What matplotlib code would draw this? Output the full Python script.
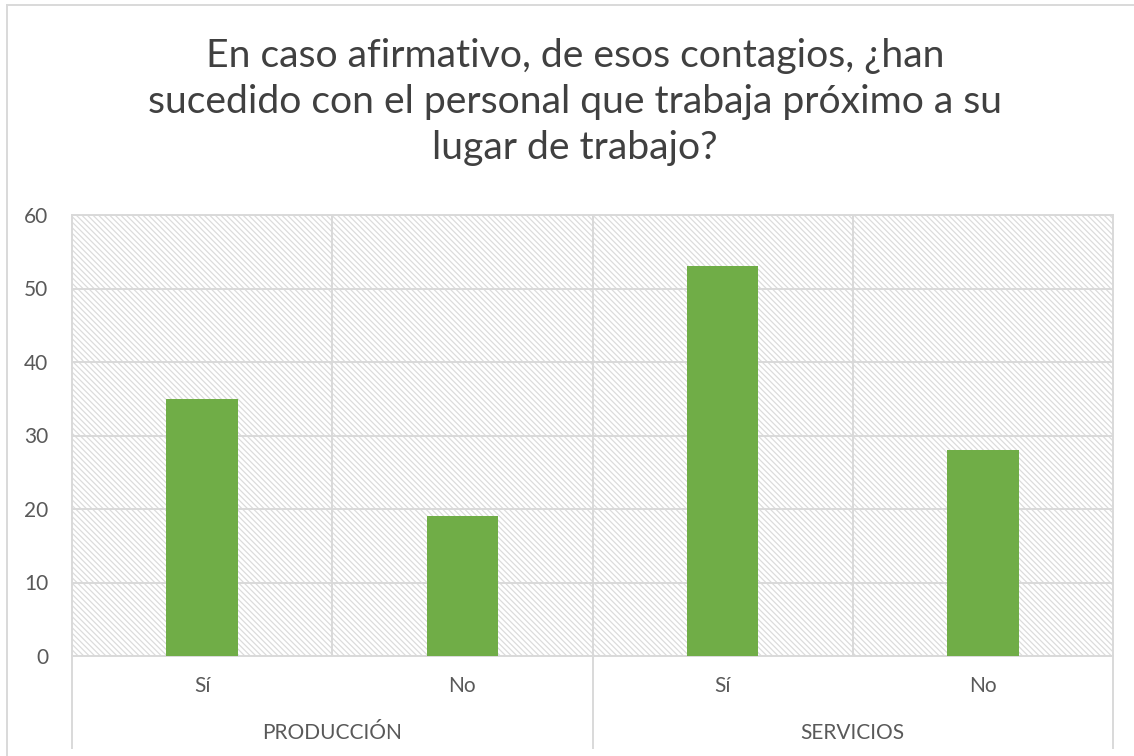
import matplotlib
matplotlib.use("Agg")
import matplotlib.pyplot as plt
from matplotlib.patches import Rectangle
from matplotlib.lines import Line2D

title = "En caso afirmativo, de esos contagios, ¿han\nsucedido con el personal que trabaja próximo a su\nlugar de trabajo?"
groups = ["PRODUCCIÓN", "SERVICIOS"]
categories = ["Sí", "No", "Sí", "No"]
values = [35, 19, 53, 28]
yticks = [0, 10, 20, 30, 40, 50, 60]

plt.rcParams['font.family'] = ['Lato', 'DejaVu Sans']
plt.rcParams['hatch.linewidth'] = 0.9
plt.rcParams['hatch.color'] = '#dcdcdc'

W, H = 1134, 756
fig = plt.figure(figsize=(W/100, H/100), dpi=100)
ax = fig.add_axes([72/W, 1-656/H, (1113-72)/W, (656-215)/H])

grid_c = '#d9d9d9'
txt_c = '#595959'

# hatched background
bg = Rectangle((0, 0), 1, 1, transform=ax.transAxes, facecolor='white',
               edgecolor='#dcdcdc', hatch='\\\\\\\\\\\\', linewidth=0, zorder=0)
ax.add_patch(bg)
ax.patch.set_visible(False)

x = list(range(len(values)))
ax.bar(x, values, width=0.275, color='#70ad47', zorder=3)

ax.set_xlim(-0.5, len(values)-0.5)
ax.set_ylim(0, 60)
ax.set_yticks(yticks)
ax.set_yticklabels([str(t) for t in yticks], fontsize=15, color=txt_c)
ax.tick_params(axis='y', length=0, pad=17)
ax.tick_params(axis='x', length=0)
ax.set_xticks([])

for t in yticks[1:]:
    ax.axhline(t, color=grid_c, lw=1.4, zorder=1)
for b in [0.5, 1.5, 2.5]:
    ax.axvline(b, color=grid_c, lw=1.4, zorder=1)

for s in ['top', 'right', 'left', 'bottom']:
    ax.spines[s].set_color(grid_c)
    ax.spines[s].set_linewidth(1.4)

# category labels
trans = ax.get_xaxis_transform()
ax_h = 656 - 215
for i, c in enumerate(categories):
    ax.text(i, -(686-656)/ax_h, c, transform=trans, ha='center', va='center',
            fontsize=15, color=txt_c)
for g, name in enumerate(groups):
    ax.text(g*2 + 0.5, -(733-656)/ax_h, name, transform=trans, ha='center',
            va='center', fontsize=15, color=txt_c)
for b in [-0.5, 1.5, 3.5]:
    ax.add_line(Line2D([b, b], [0, -(748-656)/ax_h], transform=trans,
                       color=grid_c, lw=1.4, clip_on=False))

# chart border
fig.add_artist(Line2D([7/W, 1], [1-5/H, 1-5/H], transform=fig.transFigure,
                      color=grid_c, lw=1.4))
fig.add_artist(Line2D([7/W, 7/W], [0, 1-5/H], transform=fig.transFigure,
                      color=grid_c, lw=1.4))

fig.text(575/W, 1-102/H, title, ha='center', va='center', fontsize=28.2,
         color='#404040', linespacing=1.36)

fig.savefig('out.png', dpi=100)
